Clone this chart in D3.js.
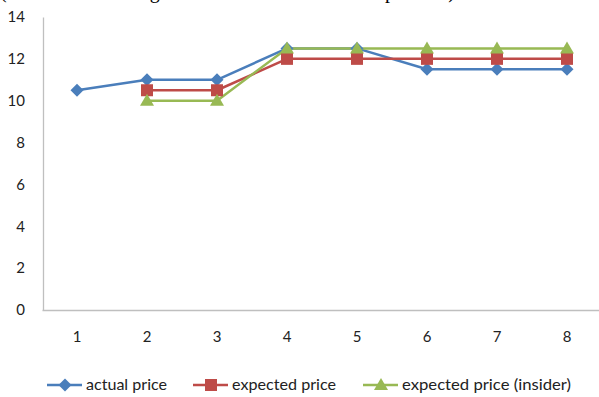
<!DOCTYPE html>
<html><head><meta charset="utf-8">
<script src="https://cdn.jsdelivr.net/npm/d3@7"></script>
<style>body{margin:0;background:#fff;}svg{display:block;}</style>
</head><body>
<svg id="c" width="599" height="397"></svg>
<script>
const categories = ["1","2","3","4","5","6","7","8"];
const actualPrice = [10.5, 11, 11, 12.5, 12.5, 11.5, 11.5, 11.5];
const expectedPrice = [null, 10.5, 10.5, 12, 12, 12, 12, 12];
const insiderPrice = [null, 10, 10, 12.5, 12.5, 12.5, 12.5, 12.5];
const yTicks = [0, 2, 4, 6, 8, 10, 12, 14];
const seriesNames = ["actual price", "expected price", "expected price (insider)"];

const series = [
  {name: seriesNames[0], values: actualPrice, color: "#4A7EBB", shape: "diamond"},
  {name: seriesNames[1], values: expectedPrice, color: "#BE4B48", shape: "square"},
  {name: seriesNames[2], values: insiderPrice, color: "#98B954", shape: "triangle"}
];

const svg = d3.select("#c");
const font = "Lato, 'Open Sans', sans-serif";

// clipped title remnant (cut off at the top edge in the reference)
svg.append("text").attr("x", 0).attr("y", -2.5)
  .attr("font-family", "'Liberation Serif', serif").attr("font-size", 20).attr("fill", "#000")
  .attr("textLength", 455).attr("lengthAdjust", "spacing")
  .text("(relation of the average time duration between trades per trade)");

const x = d3.scaleBand().domain(categories).range([42, 602]);
const y = d3.scaleLinear().domain([0, 14]).range([310, 17]);

// axes
const yAxis = svg.append("g").attr("transform", "translate(43,0)")
  .call(d3.axisLeft(y).tickValues(yTicks).tickSize(0).tickPadding(18));
yAxis.select(".domain").attr("stroke", "#BFBFBF").attr("stroke-width", 1.3);
yAxis.selectAll("text").attr("font-family", font).attr("font-size", 15).attr("fill", "#222");

const xAxis = svg.append("g").attr("transform", "translate(0,310)")
  .call(d3.axisBottom(x).tickSize(0).tickPadding(21));
xAxis.select(".domain").attr("stroke", "#BFBFBF").attr("stroke-width", 1.3);
xAxis.selectAll("text").attr("font-family", font).attr("font-size", 15).attr("fill", "#222");

const cx = c => x(c) + x.bandwidth() / 2;

function marker(g, shape, color, px, py) {
  if (shape === "diamond") {
    g.append("path").attr("d", `M${px},${py-6.5}L${px+6.5},${py}L${px},${py+6.5}L${px-6.5},${py}Z`).attr("fill", color);
  } else if (shape === "square") {
    g.append("rect").attr("x", px-6).attr("y", py-6).attr("width", 12).attr("height", 12).attr("fill", color);
  } else {
    g.append("path").attr("d", `M${px},${py-7}L${px+7},${py+5}L${px-7},${py+5}Z`).attr("fill", color);
  }
}

const line = d3.line().defined(d => d.v != null).x(d => cx(d.c)).y(d => y(d.v));

series.forEach(s => {
  const pts = categories.map((c, i) => ({c, v: s.values[i]}));
  svg.append("path").datum(pts).attr("d", line).attr("fill", "none")
    .attr("stroke", s.color).attr("stroke-width", 2.5).attr("stroke-linejoin", "round");
});
series.forEach(s => {
  const g = svg.append("g");
  categories.forEach((c, i) => {
    if (s.values[i] != null) marker(g, s.shape, s.color, cx(c), y(s.values[i]));
  });
});

// legend
const legendX = [47, 193, 363];
const legendW = [81, 104, 169];
series.forEach((s, i) => {
  const g = svg.append("g");
  const lx = legendX[i];
  g.append("line").attr("x1", lx).attr("x2", lx + 35).attr("y1", 385).attr("y2", 385)
    .attr("stroke", s.color).attr("stroke-width", 2.5);
  marker(g, s.shape, s.color, lx + 18, 385);
  g.append("text").attr("x", lx + 39).attr("y", 390).attr("font-family", font)
    .attr("font-size", 15).attr("fill", "#222")
    .attr("textLength", legendW[i]).attr("lengthAdjust", "spacingAndGlyphs").text(s.name);
});
</script>
</body></html>
